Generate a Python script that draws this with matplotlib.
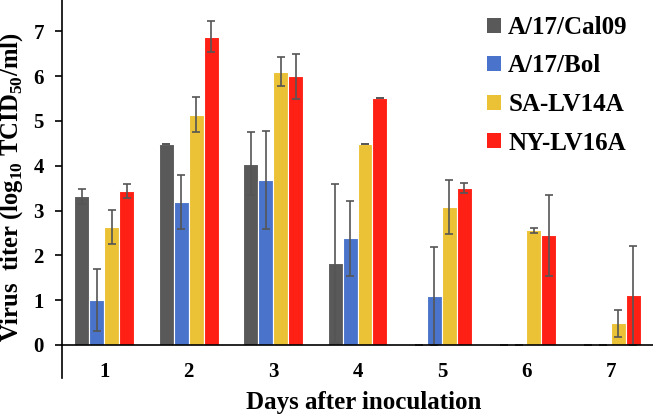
import matplotlib
matplotlib.use('Agg')
import matplotlib.pyplot as plt
from matplotlib.patches import Patch
import numpy as np

plt.rcParams['font.family'] = 'Liberation Serif'
plt.rcParams['font.weight'] = 'bold'
plt.rcParams['mathtext.fontset'] = 'custom'
plt.rcParams['mathtext.rm'] = 'Liberation Serif:bold'
plt.rcParams['mathtext.bf'] = 'Liberation Serif:bold'

days = ['1', '2', '3', '4', '5', '6', '7']
strains = ['A/17/Cal09', 'A/17/Bol', 'SA-LV14A', 'NY-LV16A']
colors = ['#595959', '#4A74CC', '#EBC135', '#FF2015']

# mean titers per strain (log10 TCID50/ml)
cal09 = [3.32, 4.49, 4.05, 1.82, 0, 0, 0]
bol = [1.00, 3.20, 3.68, 2.38, 1.09, 0, 0]
sa_lv14a = [2.63, 5.14, 6.10, 4.49, 3.08, 2.56, 0.48]
ny_lv16a = [3.44, 6.88, 6.00, 5.52, 3.50, 2.45, 1.11]

# standard deviations
cal09_err = [0.17, 0, 0.71, 1.77, 0, 0, 0]
bol_err = [0.69, 0.60, 1.10, 0.84, 1.10, 0, 0]
sa_lv14a_err = [0.38, 0.39, 0.33, 0, 0.60, 0.06, 0.30]
ny_lv16a_err = [0.16, 0.35, 0.50, 0, 0.11, 0.90, 1.10]

values = [cal09, bol, sa_lv14a, ny_lv16a]
errors = [cal09_err, bol_err, sa_lv14a_err, ny_lv16a_err]

fig = plt.figure(figsize=(6.53, 4.16), dpi=100)
ax = fig.add_axes([62 / 653, 71 / 416, 591 / 653, 345 / 416])

x = np.arange(1, len(days) + 1)
w = 0.1775
for i, (vals, errs) in enumerate(zip(values, errors)):
    ax.bar(x + (i - 1.5) * w, vals, w, color=colors[i], edgecolor='white',
           linewidth=0.8, label=strains[i],
           yerr=errs, error_kw=dict(ecolor='#555555', elinewidth=1.2,
                                    capsize=3, capthick=1.2))

ax.set_xlim(0.5, 7.5)
ax.set_ylim(0, 7.7)
ax.set_xticks(x)
ax.set_xticklabels(days)
ax.set_yticks(range(0, 8))
ax.tick_params(axis='x', length=0, pad=12, labelsize=15)
ax.tick_params(axis='y', length=5, width=1.2, pad=8, labelsize=15)
for s in ['top', 'right']:
    ax.spines[s].set_visible(False)
for s in ['left', 'bottom']:
    ax.spines[s].set_linewidth(1.2)
# vertical axis continues below the category axis
ax.plot([0, 0], [0, -33 / 345], transform=ax.transAxes, clip_on=False,
        color='black', lw=1.2)

fig.text(364 / 653, 1 - 403 / 416, 'Days after inoculation', ha='center',
         va='center', fontsize=18, fontweight='bold')
fig.text(12 / 653, 1 - 187 / 416,
         r'Virus  titer (log$_{10}$ TCID$_{50}$/ml)', rotation=90,
         ha='center', va='center', fontsize=17.7, fontweight='bold')

handles = [Patch(facecolor=c) for c in colors]
ax.legend(handles, strains, loc='upper left',
          bbox_to_anchor=(487 / 653, 1 - 16 / 416),
          bbox_transform=fig.transFigure, frameon=False, borderpad=0,
          borderaxespad=0, handlelength=0.55, handleheight=0.55,
          handletextpad=0.3, labelspacing=0.62,
          prop=dict(family='Liberation Serif', weight='bold', size=18))

fig.savefig('out.png', dpi=100)
